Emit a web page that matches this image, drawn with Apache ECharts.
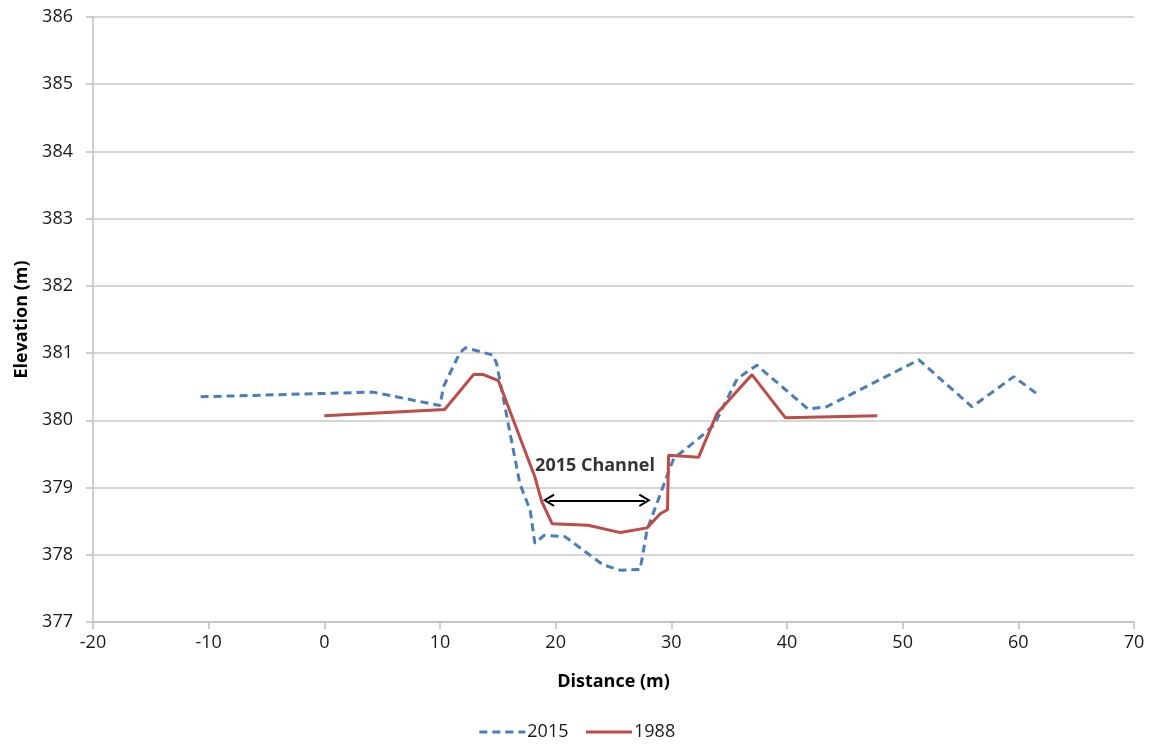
<!DOCTYPE html>
<html>
<head>
<meta charset="utf-8">
<script src="https://cdn.jsdelivr.net/npm/echarts@6/dist/echarts.min.js"></script>
<style>
html,body{margin:0;padding:0;background:#fff;}
#chart{width:1153px;height:744px;}
</style>
</head>
<body>
<div id="chart"></div>
<script>
// Data
const distance2015 = [-10.7, 4.2, 10.0, 10.3, 11.7, 12.2, 14.6, 14.9, 16.9, 17.8, 18.2, 19.0, 20.8, 24.1, 25.6, 27.3, 27.9, 29.6, 30.2, 32.5, 33.7, 35.7, 37.4, 41.8, 43.4, 51.4, 56.0, 59.6, 61.8];
const elev2015     = [380.35, 380.42, 380.22, 380.5, 381.0, 381.08, 380.97, 380.84, 379.06, 378.66, 378.17, 378.29, 378.27, 377.85, 377.77, 377.78, 378.37, 379.16, 379.43, 379.75, 379.93, 380.62, 380.82, 380.17, 380.2, 380.9, 380.2, 380.65, 380.37];
const distance1988 = [0, 10.4, 12.9, 13.75, 15.05, 18.2, 18.8, 19.7, 22.8, 25.6, 27.9, 29.04, 29.67, 29.76, 32.35, 33.94, 36.97, 39.85, 47.8];
const elev1988     = [380.07, 380.16, 380.68, 380.68, 380.59, 379.16, 378.79, 378.46, 378.44, 378.33, 378.40, 378.61, 378.67, 379.48, 379.45, 380.1, 380.68, 380.04, 380.07];
const seriesNames = ['2015', '1988'];
const channelArrow = [[19.4, 378.81], [27.7, 378.81]];
const channelLabel = { text: '2015 Channel', at: [23.4, 379.32] };
const xTicks = { min: -20, max: 70, interval: 10 };
const yTicks = { min: 377, max: 386, interval: 1 };

const zip = (xs, ys) => xs.map((x, i) => [x, ys[i]]);
const FONT = '"Open Sans", Lato, sans-serif';
const chevron = 'path://M5,0 L10,8.6 L8.8,9.6 L5,3.0 L1.2,9.6 L0,8.6 Z';

const chart = echarts.init(document.getElementById('chart'));
chart.setOption({
  animation: false,
  backgroundColor: '#ffffff',
  textStyle: { fontFamily: FONT },
  grid: { left: 93, right: 19, top: 17, bottom: 122, containLabel: false },
  legend: {
    data: seriesNames,
    bottom: -2,
    left: 'center',
    itemWidth: 46,
    itemHeight: 14,
    itemGap: 16,
    itemStyle: { opacity: 0 },
    lineStyle: { width: 3 },
    textStyle: { fontFamily: FONT, fontSize: 18, color: '#1a1a1a', padding: [0, 0, 0, -3] }
  },
  xAxis: {
    type: 'value',
    min: xTicks.min, max: xTicks.max, interval: xTicks.interval,
    name: 'Distance (m)',
    nameLocation: 'middle',
    nameGap: 51,
    nameTextStyle: { fontFamily: FONT, fontSize: 18, fontWeight: 'bold', color: '#000' },
    axisLine: { show: true, onZero: false, lineStyle: { color: '#bfbfbf', width: 1.5 } },
    axisTick: { show: true, length: 7, lineStyle: { color: '#bfbfbf', width: 1.5 } },
    axisLabel: { fontFamily: FONT, fontSize: 18, color: '#1a1a1a', margin: 12 },
    splitLine: { show: false }
  },
  yAxis: {
    type: 'value',
    min: yTicks.min, max: yTicks.max, interval: yTicks.interval,
    name: 'Elevation (m)',
    nameLocation: 'middle',
    nameGap: 60,
    nameRotate: 90,
    nameTextStyle: { fontFamily: FONT, fontSize: 18, fontWeight: 'bold', color: '#000' },
    axisLine: { show: true, onZero: false, lineStyle: { color: '#bfbfbf', width: 1.5 } },
    axisTick: { show: true, length: 7, lineStyle: { color: '#bfbfbf', width: 1.5 } },
    axisLabel: { fontFamily: FONT, fontSize: 18, color: '#1a1a1a', margin: 20 },
    splitLine: { show: true, lineStyle: { color: '#c8c8c8', width: 1.5 } }
  },
  series: [
    {
      name: seriesNames[0],
      type: 'line',
      data: zip(distance2015, elev2015),
      showSymbol: false,
      symbol: 'none',
      color: '#4a7ebb',
      lineStyle: { color: '#4a7ebb', width: 3, type: [8, 5] },
      z: 3
    },
    {
      name: seriesNames[1],
      type: 'line',
      data: zip(distance1988, elev1988),
      showSymbol: false,
      symbol: 'none',
      color: '#be4b48',
      lineStyle: { color: '#be4b48', width: 3 },
      z: 4
    },
    {
      name: 'annotation',
      type: 'scatter',
      data: [channelLabel.at],
      symbolSize: 0,
      silent: true,
      label: {
        show: true,
        position: 'inside',
        formatter: channelLabel.text,
        fontFamily: FONT,
        fontSize: 18,
        fontWeight: 'bold',
        color: '#000'
      },
      markLine: {
        silent: true,
        symbol: [chevron, chevron],
        symbolSize: [13, 12],
        label: { show: false },
        lineStyle: { color: '#000', width: 1.8, type: 'solid' },
        data: [[{ coord: channelArrow[0] }, { coord: channelArrow[1] }]]
      },
      z: 5
    }
  ]
});
</script>
</body>
</html>
